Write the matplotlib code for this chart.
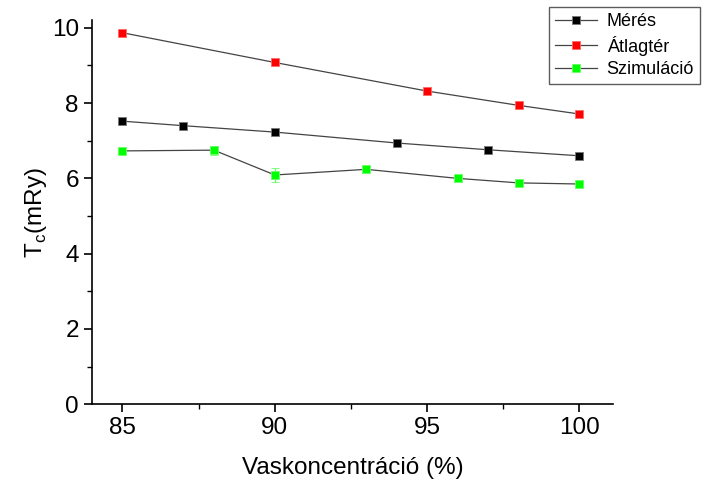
import matplotlib.pyplot as plt
import numpy as np
from matplotlib.container import ErrorbarContainer

# Data
x_meres = [85, 87, 90, 94, 97, 100]
y_meres = [7.52, 7.40, 7.23, 6.94, 6.76, 6.60]

x_atlag = [85, 90, 95, 98, 100]
y_atlag = [9.87, 9.08, 8.32, 7.94, 7.71]

x_szim = [85, 88, 90, 93, 96, 98, 100]
y_szim = [6.73, 6.75, 6.09, 6.24, 6.00, 5.88, 5.85]
err_szim = [0.0, 0.12, 0.18, 0.0, 0.0, 0.0, 0.0]

plt.rcParams["font.family"] = ["Liberation Sans", "DejaVu Sans"]

fig = plt.figure(figsize=(7.04, 4.84), dpi=100)
ax = fig.add_axes([0.1307, 0.165, 0.740, 0.793])

line_kw = dict(color="#444444", linewidth=0.9, marker="s", markersize=6,
               markeredgewidth=0.6)

ax.plot(x_meres, y_meres, markerfacecolor="black", markeredgecolor="#777777",
        label="Mérés", **line_kw)
ax.plot(x_atlag, y_atlag, markerfacecolor="red", markeredgecolor="#ff6666",
        label="Átlagtér", **line_kw)
ax.errorbar(x_szim, y_szim, yerr=err_szim, ecolor="#66ff66", elinewidth=0.9,
            capsize=3, markerfacecolor="#00ff00", markeredgecolor="#66ff66",
            label="Szimuláció", **line_kw)

ax.set_xlim(84.0, 101.1)
ax.set_ylim(0, 10.2)
ax.set_xticks([85, 90, 95, 100])
ax.set_xticks([87.5, 92.5, 97.5], minor=True)
ax.set_yticks([0, 2, 4, 6, 8, 10])
ax.set_yticks([1, 3, 5, 7, 9], minor=True)

for s in ["top", "right"]:
    ax.spines[s].set_visible(False)
for s in ["left", "bottom"]:
    ax.spines[s].set_linewidth(1.2)

ax.tick_params(which="major", length=6, width=1.2, labelsize=17.5)
ax.tick_params(which="minor", length=3.5, width=1.0)

ax.set_xlabel("Vaskoncentráció (%)", fontsize=17.5, labelpad=13)
ax.set_ylabel("T$_\\mathregular{c}$(mRy)", fontsize=17.5, labelpad=2)

# legend shows plain line+marker handles (no error bar glyph)
handles, labels = ax.get_legend_handles_labels()
handles = [h.lines[0] if isinstance(h, ErrorbarContainer) else h for h in handles]
leg = ax.legend(handles, labels, loc="upper left", bbox_to_anchor=(0.877, 1.035),
                fontsize=13, frameon=True, fancybox=False,
                edgecolor="#333333", borderpad=0.35, labelspacing=0.3,
                handlelength=2.3, handletextpad=0.55, borderaxespad=0)
leg.get_frame().set_linewidth(1.0)

fig.savefig("out.png", dpi=100)
